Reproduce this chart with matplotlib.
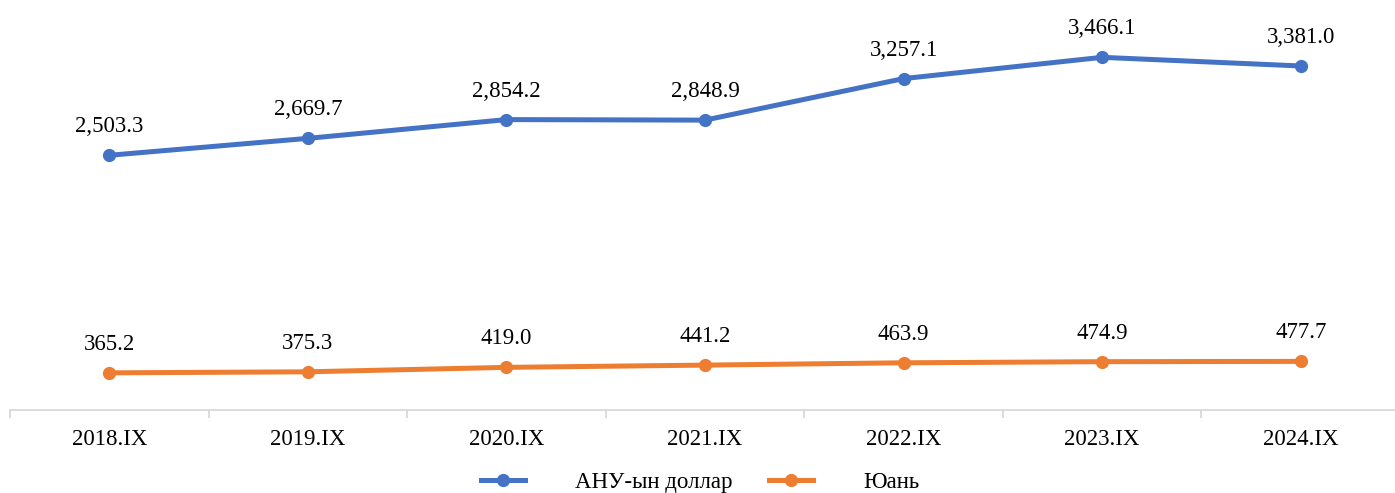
import matplotlib.pyplot as plt
from matplotlib.lines import Line2D
import numpy as np

plt.rcParams['font.family'] = ['Liberation Serif', 'DejaVu Serif']

# chart data
periods = ["2018.IX", "2019.IX", "2020.IX", "2021.IX", "2022.IX", "2023.IX", "2024.IX"]
usd = [2503.3, 2669.7, 2854.2, 2848.9, 3257.1, 3466.1, 3381.0]
yuan = [365.2, 375.3, 419.0, 441.2, 463.9, 474.9, 477.7]
series_names = ["АНУ-ын доллар", "Юань"]

blue = "#4472C4"
orange = "#ED7D31"

fig = plt.figure(figsize=(13.95, 4.93), dpi=100)
# plot area runs a little past the right edge, as in the original
ax = fig.add_axes([10 / 1395, (493 - 410) / 493, 1390 / 1395, 407 / 493])

x = np.arange(len(periods))
for vals, color in [(usd, blue), (yuan, orange)]:
    ax.plot(x, vals, color=color, linewidth=3.6, marker="o", markersize=8.5,
            solid_capstyle="round", clip_on=False)
    for xi, v in zip(x, vals):
        ax.annotate(f"{v:,.1f}", (xi, v), xytext=(0, 13), textcoords="offset points",
                    ha="center", va="bottom", fontsize=16.5, color="black")

ax.set_xlim(-0.5, len(periods) - 0.5)
ax.set_ylim(0, 4000)

for side in ["top", "right", "left"]:
    ax.spines[side].set_visible(False)
ax.spines["bottom"].set_color("#D9D9D9")
ax.spines["bottom"].set_linewidth(1.3)
ax.set_yticks([])

# category labels centred, tick marks on the boundaries
ax.set_xticks(x)
ax.set_xticklabels(periods, fontsize=16.5)
ax.tick_params(axis="x", which="major", length=0, pad=14)
ax.set_xticks(np.arange(-0.5, len(periods)), minor=True)
ax.tick_params(axis="x", which="minor", length=6, color="#D9D9D9", width=1.3)

handles = [Line2D([], [], color=blue, linewidth=3.6, marker="o", markersize=8.5),
           Line2D([], [], color=orange, linewidth=3.6, marker="o", markersize=8.5)]
fig.legend(handles, series_names, loc="center", bbox_to_anchor=(0.502, 1 - 482 / 493),
           ncol=2, frameon=False, fontsize=16.5, handlelength=1.9, handletextpad=2.2,
           columnspacing=1.6)

fig.savefig("out.png", dpi=100)
